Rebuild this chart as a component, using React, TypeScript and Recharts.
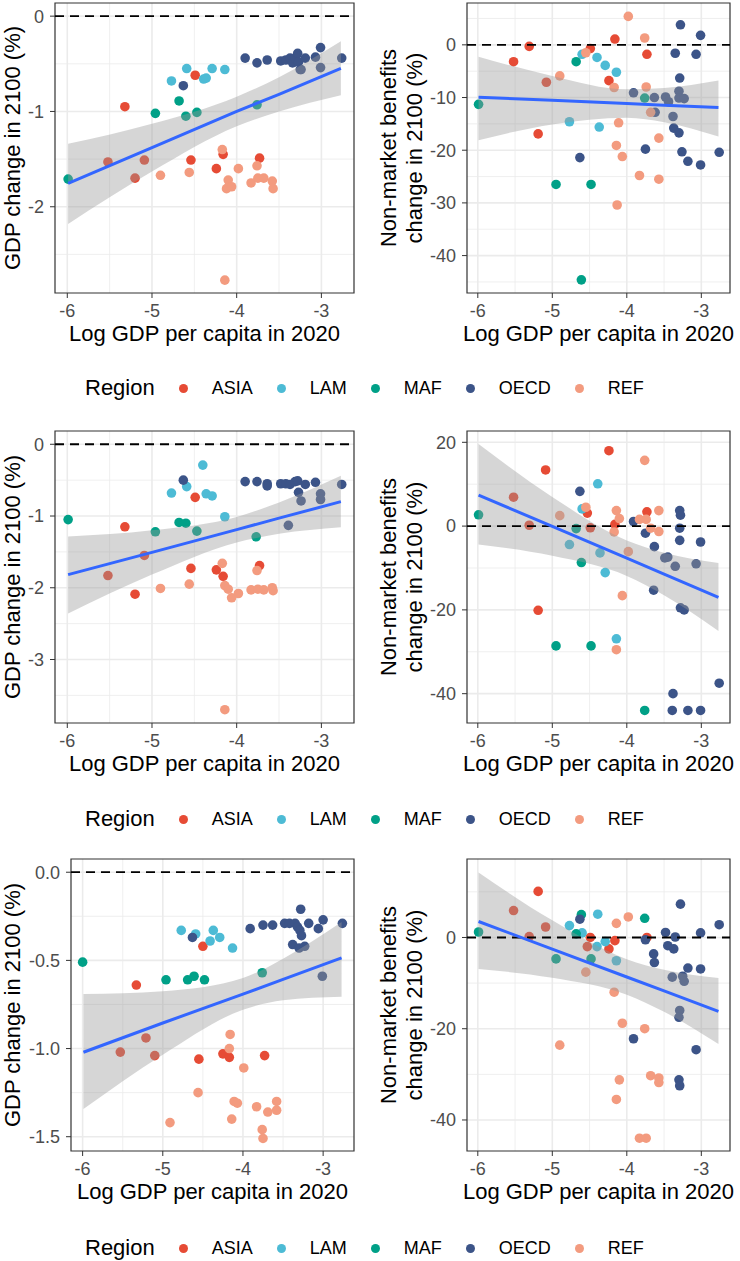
import React from "react";
import { ComposedChart, Scatter, Area, Line, XAxis, YAxis, CartesianGrid, ReferenceLine, ReferenceArea } from "recharts";

type Pt = [number, number];
type FitRow = [number, number, number, number]; // x, fit, lower, upper

const regions = ["ASIA", "LAM", "MAF", "OECD", "REF"];
const regionColors = ["#E64B35", "#4DBBD5", "#00A087", "#3C5488", "#F39B7F"];

const xTicks = [-6, -5, -4, -3];
const xMinor = [-5.5, -4.5, -3.5];
const xTitle = "Log GDP per capita in 2020";
const gdpTitle = ["GDP change in 2100 (%)"];
const nmbTitle = ["Non-market benefits", "change in 2100 (%)"];

// row 1
const gdp1Pts: Record<string, Pt[]> = {
  ASIA: [[-5.32, -0.95], [-4.49, -0.62], [-4.54, -1.51], [-4.24, -1.6], [-4.16, -1.45], [-3.73, -1.49], [-5.09, -1.51], [-5.2, -1.7], [-5.52, -1.53]],
  LAM: [[-4.77, -0.68], [-4.59, -0.55], [-4.39, -0.66], [-4.36, -0.65], [-4.29, -0.55], [-4.14, -0.56]],
  MAF: [[-5.99, -1.71], [-4.96, -1.02], [-4.68, -0.89], [-4.6, -1.05], [-4.47, -1.01], [-3.76, -0.93]],
  OECD: [[-3.9, -0.44], [-3.76, -0.49], [-3.64, -0.46], [-3.48, -0.47], [-3.42, -0.46], [-3.37, -0.44], [-3.34, -0.49], [-3.31, -0.44], [-3.28, -0.39], [-3.27, -0.48], [-3.19, -0.44], [-3.07, -0.43], [-3.01, -0.33], [-2.76, -0.44], [-3.24, -0.56], [-3.25, -0.56], [-3.01, -0.54], [-4.63, -0.73]],
  REF: [[-4.9, -1.67], [-4.56, -1.64], [-4.17, -1.4], [-4.14, -2.77], [-4.1, -1.72], [-4.12, -1.81], [-4.06, -1.79], [-3.98, -1.6], [-3.83, -1.75], [-3.76, -1.57], [-3.75, -1.7], [-3.68, -1.7], [-3.58, -1.73], [-3.57, -1.81]],
};
const gdp1Fit: FitRow[] = [[-5.99, -1.755, -2.18, -1.34], [-5, -1.38, -1.63, -1.13], [-4, -1.0, -1.155, -0.845], [-3.5, -0.82, -1.0, -0.64], [-2.77, -0.548, -0.83, -0.263]];

const nmb1Pts: Record<string, Pt[]> = {
  ASIA: [[-5.52, -3.2], [-5.31, -0.3], [-5.19, -16.9], [-5.08, -7.1], [-4.49, -0.7], [-4.24, -6.8], [-4.16, 1.1], [-3.73, -1.8]],
  LAM: [[-4.77, -14.6], [-4.6, -1.8], [-4.4, -2.4], [-4.29, -3.9], [-4.14, -5.2], [-4.37, -15.6]],
  MAF: [[-5.99, -11.3], [-4.95, -26.5], [-4.68, -3.2], [-4.48, -26.5], [-4.61, -44.6], [-3.76, -10.1]],
  OECD: [[-4.63, -21.4], [-3.91, -9.1], [-3.75, -19.8], [-3.63, -10.0], [-3.62, -12.8], [-3.48, -9.9], [-3.44, -10.8], [-3.38, -13.6], [-3.37, -15.8], [-3.35, -1.6], [-3.3, -16.7], [-3.29, -6.3], [-3.3, -8.8], [-3.3, -10.1], [-3.23, -10.2], [-3.28, 3.8], [-3.26, -20.3], [-3.18, -22.1], [-3.07, -1.8], [-3.01, 1.8], [-3.01, -22.8], [-2.76, -20.4]],
  REF: [[-4.9, -5.9], [-4.55, -1.5], [-4.17, -8.1], [-3.98, 5.4], [-3.76, 1.3], [-3.74, -8.0], [-3.68, -12.8], [-4.11, -14.8], [-4.14, -19.1], [-4.06, -21.2], [-3.83, -24.8], [-3.57, -17.7], [-3.57, -25.5], [-4.13, -30.4]],
};
const nmb1Fit: FitRow[] = [[-5.99, -9.94, -18.1, -2.25], [-5, -10.53, -15.1, -5.9], [-4, -11.15, -13.85, -8.45], [-3.5, -11.45, -14.7, -8.2], [-2.77, -11.9, -17.4, -6.75]];

// row 2
const gdp2Pts: Record<string, Pt[]> = {
  ASIA: [[-5.32, -1.15], [-5.2, -2.09], [-5.09, -1.55], [-5.52, -1.83], [-4.49, -0.74], [-4.54, -1.73], [-4.24, -1.75], [-4.16, -1.84], [-3.73, -1.69]],
  LAM: [[-4.77, -0.68], [-4.59, -0.59], [-4.4, -0.29], [-4.36, -0.69], [-4.29, -0.72], [-4.14, -1.01]],
  MAF: [[-5.99, -1.05], [-4.96, -1.22], [-4.68, -1.09], [-4.6, -1.1], [-4.47, -1.21], [-3.77, -1.29]],
  OECD: [[-4.63, -0.5], [-3.9, -0.52], [-3.76, -0.52], [-3.64, -0.55], [-3.64, -0.58], [-3.48, -0.55], [-3.42, -0.55], [-3.37, -0.56], [-3.31, -0.52], [-3.28, -0.51], [-3.19, -0.56], [-3.07, -0.53], [-3.27, -0.67], [-3.24, -0.79], [-3.01, -0.69], [-3.01, -0.77], [-3.39, -1.13], [-2.76, -0.56]],
  REF: [[-4.9, -2.01], [-4.56, -1.95], [-4.17, -1.66], [-4.14, -3.7], [-4.14, -1.97], [-4.1, -2.02], [-4.06, -2.14], [-3.98, -2.08], [-3.83, -2.03], [-3.76, -1.76], [-3.75, -2.02], [-3.68, -2.03], [-3.58, -2.0], [-3.57, -2.04]],
};
const gdp2Fit: FitRow[] = [[-5.99, -1.817, -2.358, -1.285], [-5, -1.507, -1.816, -1.198], [-4, -1.19, -1.368, -1.012], [-3.5, -1.03, -1.248, -0.812], [-2.77, -0.8, -1.156, -0.44]];

const nmb2Pts: Record<string, Pt[]> = {
  ASIA: [[-5.52, 6.9], [-5.31, 0.2], [-5.19, -20.1], [-5.09, 13.4], [-4.53, 3.1], [-4.49, -0.4], [-4.24, 18.0], [-4.16, 0.4], [-3.73, 3.4]],
  LAM: [[-4.77, -4.4], [-4.6, 4.1], [-4.39, 10.1], [-4.36, -6.4], [-4.29, -11.1], [-4.14, -26.9]],
  MAF: [[-5.99, 2.7], [-4.95, -28.6], [-4.48, -28.6], [-4.68, -0.6], [-4.61, -8.7], [-3.76, -44.0]],
  OECD: [[-4.63, 8.3], [-3.91, 1.1], [-3.75, -1.7], [-3.63, -4.9], [-3.64, -15.3], [-3.49, -7.6], [-3.45, -7.4], [-3.35, -9.6], [-3.38, -40.0], [-3.39, -44.0], [-3.29, 3.7], [-3.28, 2.6], [-3.29, -0.5], [-3.29, -3.4], [-3.28, -19.5], [-3.23, -20.0], [-3.18, -44.0], [-3.07, -9.0], [-3.01, -3.8], [-3.01, -44.0], [-2.76, -37.5]],
  REF: [[-4.9, 2.5], [-4.55, 4.5], [-4.17, -1.4], [-4.14, 3.7], [-4.1, 1.8], [-4.14, -29.5], [-4.06, -16.6], [-3.98, -6.1], [-3.83, 1.6], [-3.76, 15.7], [-3.74, 1.6], [-3.68, -0.5], [-3.57, 3.7], [-3.57, -1.3]],
};
const nmb2Fit: FitRow[] = [[-5.99, 7.4, -4.38, 19.57], [-5, -0.08, -7.1, 6.96], [-4, -7.66, -11.9, -3.42], [-3.5, -11.45, -16.5, -6.36], [-2.77, -17.0, -25.06, -8.83]];

// row 3
const gdp3Pts: Record<string, Pt[]> = {
  ASIA: [[-5.33, -0.64], [-4.5, -0.42], [-5.53, -1.02], [-5.21, -0.94], [-5.1, -1.04], [-4.55, -1.06], [-4.25, -1.03], [-4.17, -1.05], [-3.73, -1.04]],
  LAM: [[-4.77, -0.33], [-4.59, -0.35], [-4.37, -0.33], [-4.41, -0.39], [-4.29, -0.37], [-4.13, -0.43]],
  MAF: [[-6.0, -0.51], [-4.96, -0.61], [-4.69, -0.61], [-4.61, -0.59], [-4.48, -0.61], [-3.76, -0.57]],
  OECD: [[-4.63, -0.37], [-3.91, -0.32], [-3.75, -0.3], [-3.63, -0.3], [-3.48, -0.29], [-3.42, -0.29], [-3.35, -0.29], [-3.32, -0.31], [-3.28, -0.21], [-3.29, -0.33], [-3.27, -0.36], [-3.38, -0.41], [-3.18, -0.29], [-3.06, -0.32], [-3.0, -0.27], [-2.76, -0.29], [-3.3, -0.43], [-3.23, -0.42], [-3.01, -0.59]],
  REF: [[-4.16, -0.92], [-4.17, -1.0], [-3.99, -1.11], [-4.56, -1.25], [-4.91, -1.42], [-4.11, -1.3], [-4.07, -1.31], [-4.14, -1.4], [-3.83, -1.33], [-3.69, -1.36], [-3.58, -1.3], [-3.58, -1.35], [-3.76, -1.46], [-3.75, -1.51]],
};
const gdp3Fit: FitRow[] = [[-5.99, -1.021, -1.343, -0.691], [-5, -0.855, -1.035, -0.675], [-4, -0.691, -0.78, -0.6], [-3.5, -0.608, -0.726, -0.49], [-2.77, -0.486, -0.706, -0.282]];

const nmb3Pts: Record<string, Pt[]> = {
  ASIA: [[-5.52, 5.9], [-5.31, 0.2], [-5.19, 10.1], [-5.09, 2.3], [-4.53, -2.0], [-4.49, 0.0], [-4.24, -2.5], [-4.16, -0.7], [-3.73, 0.0]],
  LAM: [[-4.77, 2.6], [-4.6, 1.0], [-4.39, 5.1], [-4.4, -2.0], [-4.29, -0.9], [-4.14, -5.1]],
  MAF: [[-5.99, 1.2], [-4.95, -4.7], [-4.61, 5.0], [-4.68, 0.8], [-4.48, -4.7], [-3.76, 4.2]],
  OECD: [[-4.63, 4.0], [-3.91, -22.2], [-3.75, -0.5], [-3.64, -3.6], [-3.63, -5.5], [-3.48, 1.1], [-3.45, -1.8], [-3.37, -2.5], [-3.35, 0.1], [-3.39, -8.7], [-3.25, -8.5], [-3.23, -9.6], [-3.29, -16.0], [-3.3, -17.5], [-3.28, 7.3], [-3.18, -6.7], [-3.07, -24.6], [-3.3, -31.2], [-3.29, -32.5], [-3.01, 1.0], [-3.01, -6.9], [-2.76, 2.8]],
  REF: [[-4.9, -23.6], [-4.55, -7.6], [-4.17, -12.0], [-4.14, 3.1], [-4.1, -31.2], [-4.14, -35.5], [-4.06, -18.8], [-3.98, 4.5], [-3.76, -20.0], [-3.68, -30.3], [-3.57, -30.8], [-3.57, -31.8], [-3.83, -44.0], [-3.74, -44.0]],
};
const nmb3Fit: FitRow[] = [[-5.99, 3.5, -6.93, 14.23], [-5, -2.54, -8.84, 3.76], [-4, -8.66, -12.56, -4.76], [-3.5, -11.72, -16.3, -7.1], [-2.77, -16.2, -23.36, -8.9]];

const FONT = "'Liberation Sans', Arial, Helvetica, sans-serif";
const X_DOMAIN: [number, number] = [-6.145, -2.615];

interface PanelProps {
  left: number;
  top: number;
  height: number;
  plotTop: number;
  axisWidth: number;
  rightPad: number;
  points: Record<string, Pt[]>;
  fit: FitRow[];
  yDomain: [number, number];
  yTicks: number[];
  yMinor: number[];
  title: string[];
  titleX: number[];
  decimals?: number;
}

const dot = (props: any) => <circle cx={props.cx} cy={props.cy} r={4.8} fill={props.fill} />;

function Panel(p: PanelProps) {
  const fitData = p.fit.map(([x, f, lo, hi]) => ({ x, fit: f, band: [lo, hi] }));
  const fmt = (v: number) => (p.decimals ? v.toFixed(p.decimals) : String(v));

  const yLabel = (props: any) => {
    const vb = props.viewBox;
    const cy = vb.y + vb.height / 2;
    return (
      <g>
        {p.title.map((t, i) => (
          <text key={t} x={p.titleX[i]} y={cy} transform={`rotate(-90, ${p.titleX[i]}, ${cy})`} textAnchor="middle" dominantBaseline="central" fontSize={22} fill="#000">
            {t}
          </text>
        ))}
      </g>
    );
  };
  const xLabel = (props: any) => {
    const vb = props.viewBox;
    return (
      <text x={vb.x + vb.width / 2} y={vb.y + 48} textAnchor="middle" fontSize={22} fill="#000">
        {xTitle}
      </text>
    );
  };

  return (
    <div style={{ position: "absolute", left: p.left, top: p.top }}>
      <ComposedChart width={370} height={p.height} margin={{ top: p.plotTop, right: p.rightPad, bottom: 0, left: 0 }}>
        <CartesianGrid stroke="#EBEBEB" strokeWidth={0.8} horizontalValues={p.yMinor} verticalValues={xMinor} />
        <CartesianGrid stroke="#EBEBEB" strokeWidth={1.6} horizontalValues={p.yTicks} verticalValues={xTicks} />
        <XAxis
          type="number"
          dataKey="x"
          domain={X_DOMAIN}
          ticks={xTicks}
          interval={0}
          allowDataOverflow
          height={60}
          axisLine={false}
          tickLine={{ stroke: "#333333" }}
          tickSize={5}
          tickMargin={6}
          tick={{ fill: "#4D4D4D", fontSize: 18 }}
          label={xLabel}
        />
        <YAxis
          type="number"
          domain={p.yDomain}
          ticks={p.yTicks}
          interval={0}
          allowDataOverflow
          width={p.axisWidth}
          axisLine={false}
          tickLine={{ stroke: "#333333" }}
          tickSize={5}
          tickMargin={6}
          tick={{ fill: "#4D4D4D", fontSize: 18 }}
          tickFormatter={fmt}
          label={yLabel}
        />
        <ReferenceLine y={0} stroke="#000" strokeWidth={1.8} strokeDasharray="9 6" />
        {regions.map((r, i) => (
          <Scatter key={r} name={r} data={p.points[r].map(([x, y]) => ({ x, y }))} dataKey="y" fill={regionColors[i]} shape={dot} isAnimationActive={false} zIndex={50} />
        ))}
        <Area data={fitData} dataKey="band" type="monotone" stroke="none" fill="#999999" fillOpacity={0.4} isAnimationActive={false} />
        <Line data={fitData} dataKey="fit" type="linear" stroke="#3366FF" strokeWidth={3} dot={false} activeDot={false} isAnimationActive={false} />
        <ReferenceArea x1={X_DOMAIN[0]} x2={X_DOMAIN[1]} y1={p.yDomain[0]} y2={p.yDomain[1]} fill="none" stroke="#333333" strokeWidth={1.2} ifOverflow="visible" />
      </ComposedChart>
    </div>
  );
}

function RegionLegend({ top }: { top: number }) {
  return (
    <div style={{ position: "absolute", left: 85, top: top - 15, height: 30, display: "flex", alignItems: "center", fontFamily: FONT }}>
      <span style={{ fontSize: 22, marginRight: 24 }}>Region</span>
      {regions.map((r, i) => (
        <span key={r} style={{ display: "flex", alignItems: "center", marginRight: 24 }}>
          <svg width={9} height={9} style={{ marginRight: 24 }}>
            <circle cx={4.5} cy={4.5} r={4.5} fill={regionColors[i]} />
          </svg>
          <span style={{ fontSize: 18 }}>{r}</span>
        </span>
      ))}
    </div>
  );
}

export default function App() {
  return (
    <div style={{ position: "absolute", left: 0, top: 0, width: 740, height: 1261, background: "#fff", fontFamily: FONT }}>
      <Panel left={0} top={0} height={353} plotTop={3} axisWidth={55} rightPad={16} points={gdp1Pts} fit={gdp1Fit}
        yDomain={[-2.905, 0.138]} yTicks={[0, -1, -2]} yMinor={[-0.5, -1.5, -2.5]} title={gdpTitle} titleX={[12]} />
      <Panel left={370} top={0} height={353} plotTop={3} axisWidth={97} rightPad={10} points={nmb1Pts} fit={nmb1Fit}
        yDomain={[-47.1, 7.94]} yTicks={[0, -10, -20, -30, -40]} yMinor={[5, -5, -15, -25, -35, -45]} title={nmbTitle} titleX={[18, 44]} />
      <RegionLegend top={388} />

      <Panel left={0} top={410} height={373} plotTop={21} axisWidth={55} rightPad={16} points={gdp2Pts} fit={gdp2Fit}
        yDomain={[-3.885, 0.185]} yTicks={[0, -1, -2, -3]} yMinor={[-0.5, -1.5, -2.5, -3.5]} title={gdpTitle} titleX={[12]} />
      <Panel left={370} top={410} height={373} plotTop={21} axisWidth={97} rightPad={10} points={nmb2Pts} fit={nmb2Fit}
        yDomain={[-47.0, 22.7]} yTicks={[20, 0, -20, -40]} yMinor={[10, -10, -30]} title={nmbTitle} titleX={[18, 44]} />
      <RegionLegend top={819} />

      <Panel left={0} top={840} height={371} plotTop={19} axisWidth={71} rightPad={16} points={gdp3Pts} fit={gdp3Fit}
        yDomain={[-1.581, 0.075]} yTicks={[0, -0.5, -1, -1.5]} yMinor={[-0.25, -0.75, -1.25]} title={gdpTitle} titleX={[12]} decimals={1} />
      <Panel left={370} top={840} height={371} plotTop={19} axisWidth={97} rightPad={10} points={nmb3Pts} fit={nmb3Fit}
        yDomain={[-46.8, 17.2]} yTicks={[0, -20, -40]} yMinor={[10, -10, -30]} title={nmbTitle} titleX={[18, 44]} />
      <RegionLegend top={1248} />
    </div>
  );
}
